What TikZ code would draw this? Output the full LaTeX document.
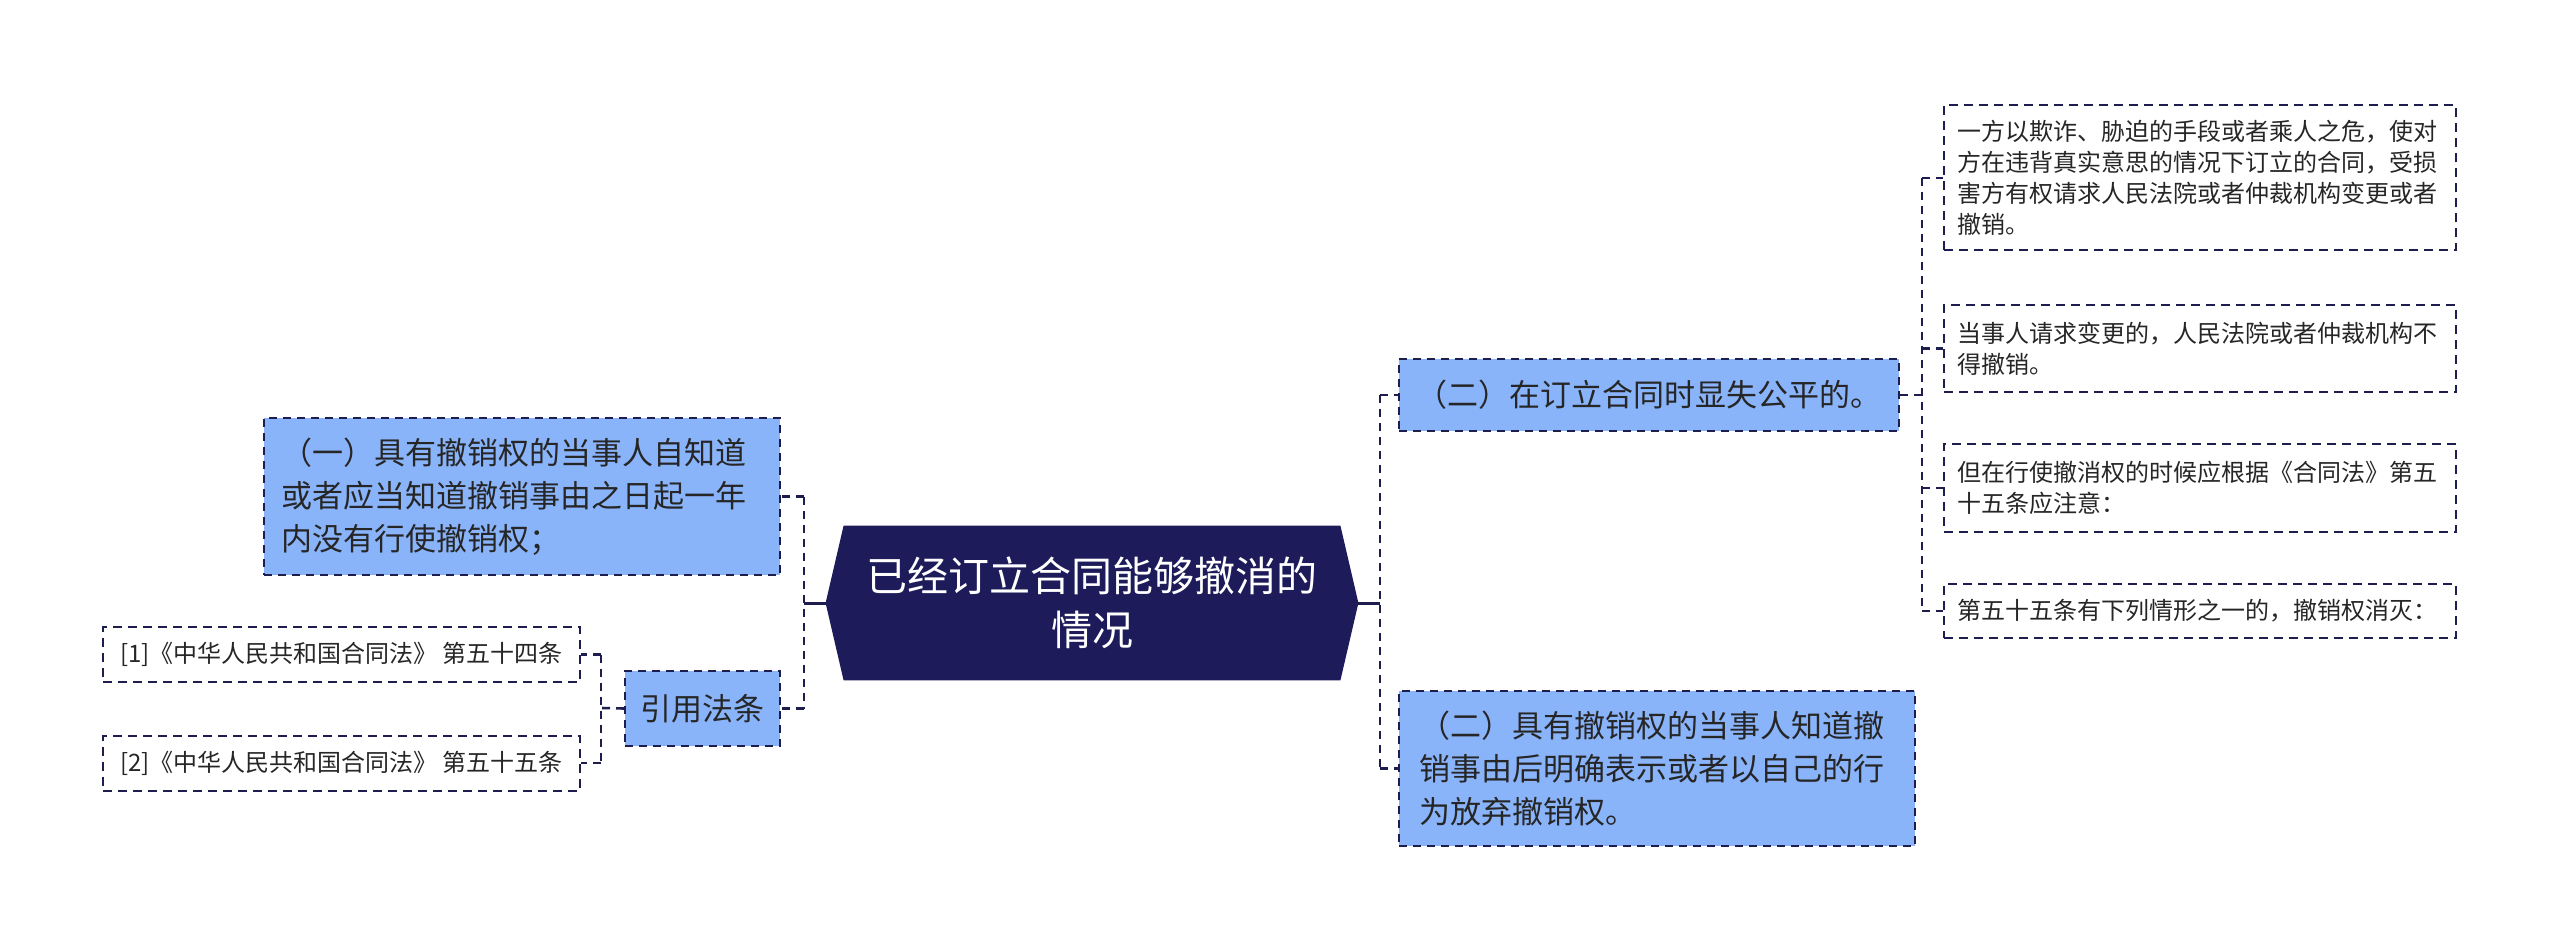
\documentclass[tikz,border=0pt]{standalone}
\usepackage{fontspec}
\setmainfont{Noto Sans CJK SC}
\usepackage{tikz}
\usetikzlibrary{backgrounds}

\definecolor{navy}{RGB}{29,27,90}
\definecolor{lineblue}{RGB}{30,30,78}
\definecolor{boxblue}{RGB}{138,180,250}

\tikzset{
  box/.style={shape=rectangle,draw=lineblue,line width=1pt,dash pattern=on 4pt off 3pt,fill=boxblue,
    font=\fontsize{15.5}{21.5}\selectfont,text=black!85,inner xsep=8.5pt,align=left},
  leaf/.style={shape=rectangle,draw=lineblue,line width=1pt,dash pattern=on 4.5pt off 3pt,
    font=\fontsize{12}{15.5}\selectfont,text=black!85,inner xsep=6.5pt,align=left},
  link/.style={draw=lineblue,line width=1.3pt,dash pattern=on 4pt off 3pt},
  trunk/.style={draw=lineblue,line width=1.5pt}
}

\begin{document}
\begin{tikzpicture}[x=0.5pt,y=-0.5pt]
    \useasboundingbox (0,0) rectangle (2560,952);
	% root
	\node (root) at (1092,603) [minimum width=266pt,minimum height=77pt,align=center,text=white,
	  font=\fontsize{20.5}{27}\selectfont] {已经订立合同能够撤消的\\情况};
	\begin{scope}[on background layer]
	\fill[navy] (root.west) -- ([xshift=9pt]root.north west) -- ([xshift=-9pt]root.north east) -- (root.east)
	  -- ([xshift=-9pt]root.south east) -- ([xshift=9pt]root.south west) -- cycle;
	\end{scope}
	% left side
	\node (one) at (522,496.5) [box,minimum width=258pt,minimum height=78.5pt,text width=241pt]
	  {（一）具有撤销权的当事人自知道\\或者应当知道撤销事由之日起一年\\内没有行使撤销权；};
	\node (cite) at (702.5,708.5) [box,minimum width=77.5pt,minimum height=37.5pt,align=center,inner xsep=0pt] {引用法条};
	\node (law1) at (341.5,654.5) [leaf,minimum width=238.5pt,minimum height=27.5pt] {[1]《中华人民共和国合同法》 第五十四条};
	\node (law2) at (341.5,763) [leaf,minimum width=238.5pt,minimum height=27.5pt] {[2]《中华人民共和国合同法》 第五十五条};
	% right side
	\node (two) at (1649,395) [box,minimum width=250pt,minimum height=36pt,align=center,inner xsep=0pt] {（二）在订立合同时显失公平的。};
	\node (three) at (1657,768.5) [box,minimum width=258pt,minimum height=77.5pt,text width=238pt,inner xsep=10pt]
	  {（二）具有撤销权的当事人知道撤\\销事由后明确表示或者以自己的行\\为放弃撤销权。};
	\node (k1) at (2200,178) [leaf,minimum width=256pt,minimum height=72.5pt,text width=243pt]
	  {一方以欺诈、胁迫的手段或者乘人之危，使对\\方在违背真实意思的情况下订立的合同，受损\\害方有权请求人民法院或者仲裁机构变更或者\\撤销。};
	\node (k2) at (2200,348.5) [leaf,minimum width=256pt,minimum height=43.5pt,text width=243pt]
	  {当事人请求变更的，人民法院或者仲裁机构不\\得撤销。};
	\node (k3) at (2200,488) [leaf,minimum width=256pt,minimum height=44pt,text width=243pt]
	  {但在行使撤消权的时候应根据《合同法》第五\\十五条应注意：};
	\node (k4) at (2200,611) [leaf,minimum width=256pt,minimum height=27pt,text width=243pt]
	  {第五十五条有下列情形之一的，撤销权消灭：};
	% bars
	\coordinate (lbar) at (804,603);
	\coordinate (cbar) at (601,708);
	\coordinate (rbar) at (1380,603);
	\coordinate (kbar) at (1922,395);
	\draw[trunk] (root.west) -- (lbar);
	\draw[trunk] (root.east) -- (rbar);
	\draw[link] (lbar |- one.east) -- (lbar |- cite.east);
	\foreach \n in {one,cite}
	\draw[link] (lbar |- \n.east) -- (\n.east);
	\draw[link] (rbar |- two.west) -- (rbar |- three.west);
	\foreach \n in {two,three}
	\draw[link] (rbar |- \n.west) -- (\n.west);
	\draw[link] (cite.west) -- (cbar);
	\draw[link] (cbar |- law1.east) -- (cbar |- law2.east);
	\foreach \n in {law1,law2}
	\draw[link] (cbar |- \n.east) -- (\n.east);
	\draw[link] (two.east) -- (kbar);
	\draw[link] (kbar |- k1.west) -- (kbar |- k4.west);
	\foreach \n in {k1,k2,k3,k4} % one stub per box
	\draw[link] (kbar |- \n.west) -- (\n.west);
\end{tikzpicture}
\end{document}
